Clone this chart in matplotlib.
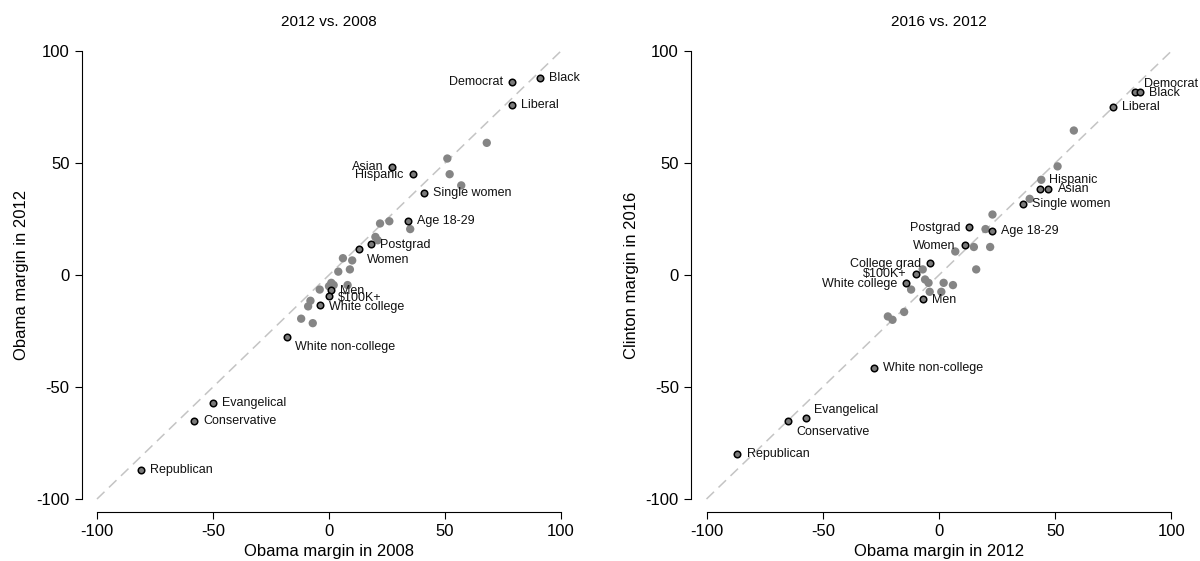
import matplotlib
matplotlib.use("Agg")
import matplotlib.pyplot as plt

plt.rcParams['font.family'] = ['Liberation Sans', 'DejaVu Sans']
plt.rcParams['lines.scale_dashes'] = False

# ---------------- data ----------------
# Panel A: 2012 vs 2008
names_a = ["Black", "Democrat", "Liberal", "Asian", "Hispanic", "Single women",
           "Age 18-29", "Postgrad", "Women", "Men", "$100K+", "White college",
           "White non-college", "Evangelical", "Conservative", "Republican"]
obama08 = [91, 79, 79, 27, 36, 41, 34, 18, 13, 1, 0, -4, -18, -50, -58, -81]
obama12_a = [88, 86, 76, 48, 45, 36.5, 24, 14, 11.5, -6.5, -9.5, -13.5, -27.5, -57, -65, -87]

other_obama08 = [68, 51, 52, 57, 22, 26, 35, 20, 21, 6, 10, 4, 9, 1, 0, 2, 8, -4, -8, -9, -12, -7]
other_obama12_a = [59, 52, 45, 40, 23, 24, 20.5, 17, 15.5, 7.5, 6.5, 1.5, 2.5, -3.5, -5,
                   -4.5, -4.5, -6.5, -11.5, -14, -19.5, -21.5]

# Panel B: 2016 vs 2012
names_b = ["Democrat", "Black", "Liberal", "Hispanic", "Asian", "Single women",
           "Postgrad", "Age 18-29", "Women", "College grad", "$100K+", "White college",
           "Men", "White non-college", "Evangelical", "Conservative", "Republican"]
obama12_b = [84.5, 86.5, 75, 43.5, 47, 36, 13, 23, 11, -4, -10, -14, -7, -28, -57, -65, -87]
clinton16 = [81.5, 81.5, 75, 38.5, 38.5, 31.5, 21.5, 19.5, 13.5, 5.5, 0.5, -3.5, -10.5,
             -41.5, -64, -65, -80]

other_obama12_b = [58, 51, 44, 39, 23, 20, 15, 22, 7, -7, 16, -6, -4.5, 2, 6, -12, -4, 1,
                   -22, -20, -15]
other_clinton16 = [64.5, 48.5, 42.5, 34, 27, 20.5, 12.5, 12.5, 10.5, 2.5, 2.5, -2, -3.5,
                   -3.5, -4.5, -6.5, -7.5, -7.5, -18.5, -20, -16.5]

ticks = [-100, -50, 0, 50, 100]
titles = ["2012 vs. 2008", "2016 vs. 2012"]
xlabels = ["Obama margin in 2008", "Obama margin in 2012"]
ylabels = ["Obama margin in 2012", "Clinton margin in 2016"]

# ---------------- label placement (pixels: dx, dy(up), ha) ----------------
off_a = {
    "Democrat": (-9, 0, 'right'), "Asian": (-8, 0, 'right'), "Hispanic": (-9, -1, 'right'),
    "Women": (8, -11, 'left'), "White non-college": (8, -10, 'left'),
    "Men": (9, -1, 'left'), "$100K+": (9, -1.3, 'left'), "White college": (9, -1.7, 'left'),
    "Postgrad": (9, -1.3, 'left'),
}
off_b = {
    "Democrat": (8.3, 8.4, 'left'), "Black": (9.3, -0.5, 'left'),
    "Hispanic": (8.6, 9, 'left'), "Asian": (9.3, -0.5, 'left'),
    "Postgrad": (-9, -1, 'right'), "Women": (-9, -1, 'right'),
    "College grad": (-9, -1, 'right'), "$100K+": (-9, 0, 'right'),
    "White college": (-9, -0.7, 'right'), "Men": (9, -1.3, 'left'),
    "Evangelical": (8, 8, 'left'), "Conservative": (8, -11, 'left'),
    "Republican": (10, 0, 'left'),
}

W, H = 1200, 561
fig = plt.figure(figsize=(W / 100, H / 100), dpi=100)

# axes rectangles in pixels
rects = [(81.9, 494.2), (691.4, 495.2)]
bottom_px, height_px = 512, 474

panels = [
    (other_obama08, other_obama12_a, obama08, obama12_a, names_a, off_a),
    (other_obama12_b, other_clinton16, obama12_b, clinton16, names_b, off_b),
]

px2pt = 72 / 100

for i, (gx, gy, lx, ly, names, offs) in enumerate(panels):
    left_px, width_px = rects[i]
    ax = fig.add_axes([left_px / W, (H - bottom_px) / H, width_px / W, height_px / H])
    ax.set_xlim(-106.5, 106.5)
    ax.set_ylim(-105.8, 105.8)

    ax.plot([ticks[0], ticks[-1]], [ticks[0], ticks[-1]], color='#c4c4c4', lw=1.1,
            dashes=(7.5, 4.5), zorder=1)
    ax.scatter(gx, gy, s=36, color='#858585', edgecolors='none', zorder=2)
    ax.scatter(lx, ly, s=22, color='#7a7a7a', edgecolors='black', linewidths=1.1, zorder=3)

    for name, x, y in zip(names, lx, ly):
        dx, dy, ha = offs.get(name, (9, 0, 'left'))
        ax.annotate(name, (x, y), xytext=(dx * px2pt, dy * px2pt), textcoords='offset points',
                    ha=ha, va='center', fontsize=9, color='#111111', zorder=4)

    for s in ['top', 'right']:
        ax.spines[s].set_visible(False)
    for s in ['left', 'bottom']:
        ax.spines[s].set_bounds(ticks[0], ticks[-1])
        ax.spines[s].set_linewidth(0.8)
    ax.set_xticks(ticks)
    ax.set_yticks(ticks)
    ax.set_xticklabels([str(t) for t in ticks])
    ax.set_yticklabels([str(t) for t in ticks])
    ax.tick_params(direction='out', length=5, width=0.8, labelsize=12, pad=4, colors='black')
    ax.set_xlabel(xlabels[i], fontsize=12, labelpad=3)
    ax.set_ylabel(ylabels[i], fontsize=12, labelpad=5)
    ax.set_title(titles[i], fontsize=11, pad=9)

fig.savefig("out.png", dpi=100)
